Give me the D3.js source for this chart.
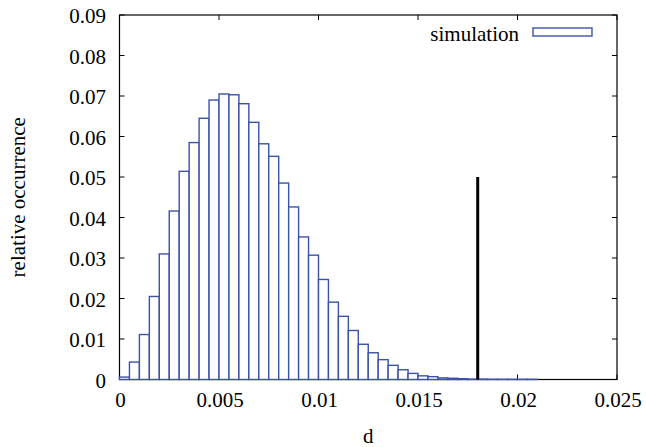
<!DOCTYPE html>
<html><head><meta charset="utf-8">
<script src="https://cdn.jsdelivr.net/npm/d3@7"></script>
<style>body{margin:0;background:#fff}svg{display:block}</style>
</head><body>
<script>
const binWidth = 0.0005;
const binStarts = d3.range(42).map(i => i * binWidth);
const simulation = [0.0006,0.0043,0.0111,0.0205,0.0310,0.0416,0.0514,0.0585,0.0645,0.0690,
  0.0705,0.0703,0.0681,0.0635,0.0582,0.0551,0.0485,0.0426,0.0352,0.0307,
  0.0247,0.0191,0.0156,0.0121,0.0087,0.0066,0.0049,0.0035,0.0024,0.0015,
  0.0009,0.0007,0.0004,0.0003,0.0002,0.0001,0.0001,0.00005,0.00005,0.00005,0.00005,0.00005];
const markerX = [0.018];
const markerY = [0.05];
const xTicks = [0,0.005,0.01,0.015,0.02,0.025];
const xTickLabels = ["0","0.005","0.01","0.015","0.02","0.025"];
const yTicks = [0,0.01,0.02,0.03,0.04,0.05,0.06,0.07,0.08,0.09];
const yTickLabels = ["0","0.01","0.02","0.03","0.04","0.05","0.06","0.07","0.08","0.09"];

const FONT = "Liberation Serif";
const W = 646, H = 447;
const L = 119.5, R = 617, T = 15, B = 379.5;
const x = d3.scaleLinear().domain([0,0.025]).range([L,R]);
const y = d3.scaleLinear().domain([0,0.09]).range([B,T]);
const svg = d3.select("body").append("svg").attr("width",W).attr("height",H);
const blue = "#3a52a8";

svg.append("rect").attr("x",L).attr("y",T).attr("width",R-L).attr("height",B-T)
  .attr("fill","none").attr("stroke","#000").attr("stroke-width",1.2);

const tl = 5;
const g = svg.append("g");
xTicks.forEach((t,i) => {
  g.append("line").attr("x1",x(t)).attr("x2",x(t)).attr("y1",B).attr("y2",B-tl).attr("stroke","#000");
  g.append("line").attr("x1",x(t)).attr("x2",x(t)).attr("y1",T).attr("y2",T+tl).attr("stroke","#000");
  g.append("text").attr("x",x(t)+1).attr("y",B+27).attr("text-anchor","middle")
    .attr("font-family",FONT).attr("font-size",21).text(xTickLabels[i]);
});
yTicks.forEach((t,i) => {
  g.append("line").attr("x1",L).attr("x2",L+tl).attr("y1",y(t)).attr("y2",y(t)).attr("stroke","#000");
  g.append("line").attr("x1",R).attr("x2",R-tl).attr("y1",y(t)).attr("y2",y(t)).attr("stroke","#000");
  g.append("text").attr("x",106).attr("y",y(t)+8).attr("text-anchor","end")
    .attr("font-family",FONT).attr("font-size",21).text(yTickLabels[i]);
});

svg.append("g").selectAll("rect").data(simulation).join("rect")
  .attr("x",(d,i)=>x(binStarts[i]))
  .attr("width",(d,i)=>x(binStarts[i]+binWidth)-x(binStarts[i]))
  .attr("y",d=>y(d))
  .attr("height",d=>y(0)-y(d))
  .attr("fill","#fff").attr("stroke",blue).attr("stroke-width",1.4);

svg.append("line").attr("x1",x(markerX[0])).attr("x2",x(markerX[0]))
  .attr("y1",y(0)).attr("y2",y(markerY[0])).attr("stroke","#000").attr("stroke-width",3);

svg.append("text").attr("x",519).attr("y",41).attr("text-anchor","end")
  .attr("font-family",FONT).attr("font-size",21).text("simulation");
svg.append("rect").attr("x",533).attr("y",28).attr("width",59).attr("height",8)
  .attr("fill","#fff").attr("stroke",blue).attr("stroke-width",1.4);

svg.append("text").attr("x",(L+R)/2).attr("y",443).attr("text-anchor","middle")
  .attr("font-family",FONT).attr("font-size",21).text("d");
svg.append("text").attr("transform",`translate(25,${(T+B)/2}) rotate(-90)`).attr("text-anchor","middle")
  .attr("font-family",FONT).attr("font-size",21).text("relative occurrence");
</script>
</body></html>
